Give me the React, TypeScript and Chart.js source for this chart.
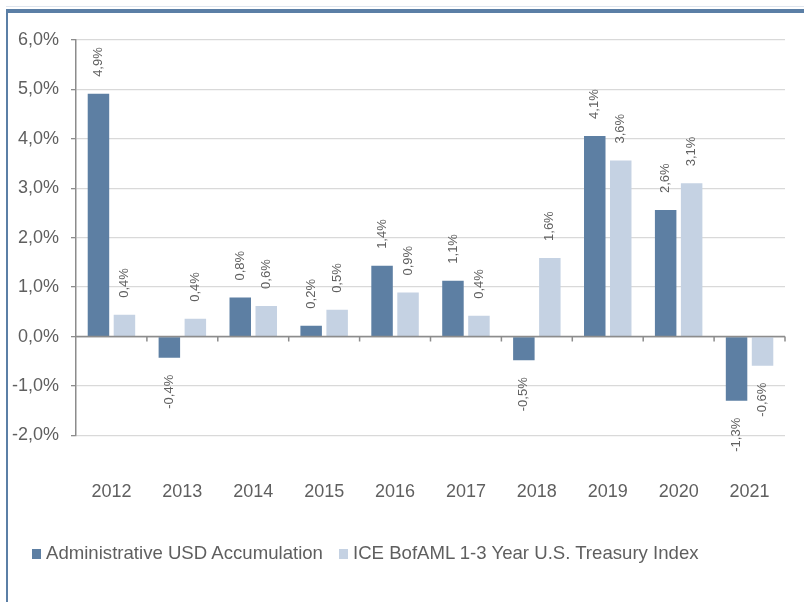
import React, { useEffect, useRef } from "react";
import { Chart, registerables } from "chart.js";

Chart.register(...registerables);

const years = ["2012", "2013", "2014", "2015", "2016", "2017", "2018", "2019", "2020", "2021"];
const fundValues = [4.91, -0.43, 0.79, 0.22, 1.43, 1.13, -0.48, 4.06, 2.56, -1.3];
const indexValues = [0.44, 0.36, 0.62, 0.54, 0.89, 0.42, 1.59, 3.56, 3.1, -0.59];
const seriesNames = ["Administrative USD Accumulation", "ICE BofAML 1-3 Year U.S. Treasury Index"];
const seriesColors = ["#5d7fa3", "#c5d2e3"];
const yMin = -2;
const yMax = 6;
const yStep = 1;

const FONT = "'Liberation Sans', Arial, sans-serif";
const TEXT = "#5f5f5f";
const AXIS = "#8c8c8c";
const GRID = "#d9d9d9";

const fmt = (v: number) => (Math.round(v * 10) / 10).toFixed(1).replace(".", ",") + "%";

const valueLabels = {
  id: "valueLabels",
  afterDatasetsDraw(chart: any) {
    const ctx = chart.ctx;
    ctx.save();
    ctx.font = `13px ${FONT}`;
    ctx.fillStyle = TEXT;
    ctx.textBaseline = "middle";
    chart.data.datasets.forEach((ds: any, di: number) => {
      const meta = chart.getDatasetMeta(di);
      meta.data.forEach((bar: any, i: number) => {
        const v = ds.data[i];
        const pos = v >= 0;
        ctx.save();
        ctx.translate(bar.x, pos ? bar.y - 17 : bar.y + 17);
        ctx.rotate(-Math.PI / 2);
        ctx.textAlign = pos ? "left" : "right";
        ctx.fillText(fmt(v), 0, 0);
        ctx.restore();
      });
    });
    ctx.restore();
  },
};

const zeroAxis = {
  id: "zeroAxis",
  afterDatasetsDraw(chart: any) {
    const ctx = chart.ctx;
    const { left, right } = chart.chartArea;
    const y0 = chart.scales.y.getPixelForValue(0);
    const n = chart.data.labels.length;
    const w = (right - left) / n;
    ctx.save();
    ctx.strokeStyle = AXIS;
    ctx.lineWidth = 1.5;
    ctx.beginPath();
    ctx.moveTo(left, y0);
    ctx.lineTo(right, y0);
    for (let i = 1; i <= n; i++) {
      const x = left + i * w;
      ctx.moveTo(x, y0);
      ctx.lineTo(x, y0 + 5);
    }
    ctx.stroke();
    ctx.restore();
  },
};

export default function App() {
  const ref = useRef<HTMLCanvasElement>(null);

  useEffect(() => {
    if (!ref.current) return;
    const chart = new Chart(ref.current, {
      type: "bar",
      data: {
        labels: years,
        datasets: [
          {
            label: seriesNames[0],
            data: fundValues,
            backgroundColor: seriesColors[0],
            categoryPercentage: 0.733,
            barPercentage: 0.827,
          },
          {
            label: seriesNames[1],
            data: indexValues,
            backgroundColor: seriesColors[1],
            categoryPercentage: 0.733,
            barPercentage: 0.827,
          },
        ],
      },
      options: {
        animation: false,
        responsive: false,
        maintainAspectRatio: false,
        layout: { padding: { left: 0, right: 19, top: 40, bottom: 19 } },
        plugins: {
          legend: { display: false },
          tooltip: { enabled: false },
        },
        scales: {
          x: {
            grid: { display: false },
            border: { display: false },
            afterFit: (scale: any) => {
              scale.paddingLeft = 0;
              scale.paddingRight = 0;
            },
            ticks: {
              padding: 38,
              color: TEXT,
              font: { family: FONT, size: 18 },
              maxRotation: 0,
            },
          },
          y: {
            min: yMin,
            max: yMax,
            afterFit: (scale: any) => {
              scale.width = 76;
            },
            ticks: {
              stepSize: yStep,
              padding: 12,
              color: TEXT,
              font: { family: FONT, size: 18 },
              callback: (v: any) => fmt(Number(v)),
            },
            grid: {
              color: (c: any) => (c.tick && c.tick.value === 0 ? AXIS : GRID),
              lineWidth: 1.3,
              tickLength: 5,
              tickColor: AXIS,
            },
            border: { display: true, color: AXIS, width: 1.5 },
          },
        },
      },
      plugins: [zeroAxis, valueLabels],
    });
    return () => chart.destroy();
  }, []);

  const legendItem = (i: number, left: number) => (
    <div
      style={{
        position: "absolute",
        left,
        top: 543,
        display: "flex",
        alignItems: "center",
        font: `18.6px ${FONT}`,
        color: TEXT,
        whiteSpace: "nowrap",
        height: 20,
      }}
    >
      <span
        style={{
          display: "inline-block",
          width: 9,
          height: 10,
          background: seriesColors[i],
          marginRight: 5,
          marginTop: 1,
        }}
      />
      <span>{seriesNames[i]}</span>
    </div>
  );

  return (
    <div
      style={{
        position: "fixed",
        left: 0,
        top: 0,
        width: 804,
        height: 602,
        background: "#ffffff",
        overflow: "hidden",
      }}
    >
      <div style={{ position: "absolute", left: 6, top: 6, width: 798, height: 1, background: "#dfe5ee" }} />
      <div
        style={{
          position: "absolute",
          left: 6,
          top: 9,
          width: 798,
          height: 600,
          borderTop: "4px solid #5b7fa6",
          borderLeft: "2px solid #5b7fa6",
          boxSizing: "border-box",
        }}
      />
      <canvas
        ref={ref}
        width={804}
        height={560}
        style={{ position: "absolute", left: 0, top: 0, width: 804, height: 560 }}
      />
      {legendItem(0, 32)}
      {legendItem(1, 339)}
    </div>
  );
}
